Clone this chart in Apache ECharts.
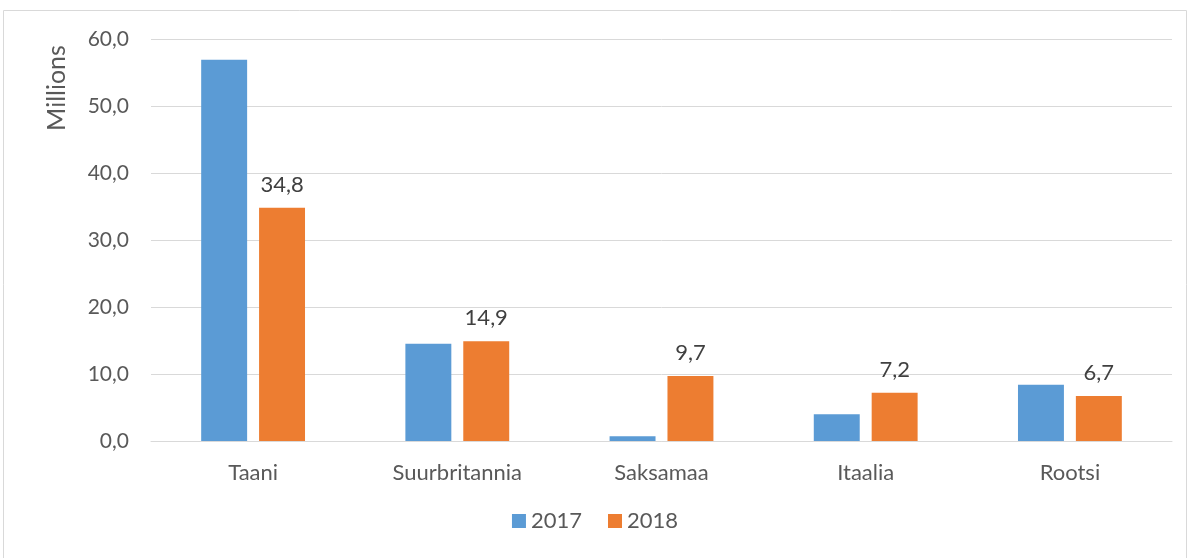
<!DOCTYPE html>
<html lang="et">
<head>
    <meta charset="utf-8" />
    <title>eCharts</title>
    <script src="https://cdn.jsdelivr.net/npm/echarts@6/dist/echarts.min.js"></script>
    <style>
        html, body { margin: 0; padding: 0; background: #fff; }
    </style>
</head>
<body>
    <div id="main" style="width: 1190px;height:558px;"></div>
    <script type="text/javascript">
        // data (millions)
        var categories = ['Taani', 'Suurbritannia', 'Saksamaa', 'Itaalia', 'Rootsi'];
        var values2017 = [56.9, 14.5, 0.7, 4.0, 8.4];
        var values2018 = [34.8, 14.9, 9.7, 7.2, 6.7];
        var seriesNames = ['2017', '2018'];

        var font = 'Lato, "Open Sans", sans-serif';
        var myChart = echarts.init(document.getElementById('main'));

        var fmt = function (v) { return v.toFixed(1).replace('.', ','); };

        option = {
            animation: false,
            textStyle: { fontFamily: font },
            grid: { left: 151, right: 18, top: 39, bottom: 117 },
            legend: {
                data: seriesNames,
                bottom: 21,
                left: 'center',
                itemWidth: 14,
                itemHeight: 14,
                itemGap: 26,
                icon: 'rect',
                textStyle: { fontSize: 22, color: '#595959', fontFamily: font }
            },
            xAxis: {
                type: 'category',
                data: categories,
                axisLine: { lineStyle: { color: '#d9d9d9', width: 1 } },
                axisTick: { show: false },
                axisLabel: { fontSize: 22, color: '#595959', margin: 21, fontFamily: font }
            },
            yAxis: {
                type: 'value',
                min: 0,
                max: 60,
                interval: 10,
                axisLine: { show: false },
                axisTick: { show: false },
                splitLine: { lineStyle: { color: '#d9d9d9', width: 1 } },
                axisLabel: { fontSize: 21, color: '#595959', margin: 22, formatter: fmt, fontFamily: font }
            },
            series: [{
                name: seriesNames[0],
                type: 'bar',
                data: values2017,
                barWidth: '22.5%',
                barGap: '26%',
                itemStyle: { color: '#5B9BD5' }
            }, {
                name: seriesNames[1],
                type: 'bar',
                data: values2018,
                barWidth: '22.5%',
                itemStyle: { color: '#ED7D31' },
                label: {
                    show: true,
                    position: 'top',
                    distance: 12,
                    fontSize: 22,
                    color: '#404040',
                    fontFamily: font,
                    formatter: function (p) { return fmt(p.value); }
                }
            }],
            graphic: [{
                type: 'rect',
                shape: { x: 3.5, y: 10.5, width: 1183, height: 560 },
                style: { fill: 'none', stroke: '#d9d9d9', lineWidth: 1 },
                silent: true
            }, {
                type: 'text',
                x: 57,
                y: 88,
                rotation: Math.PI / 2,
                style: {
                    text: 'Millions',
                    fontSize: 25,
                    fill: '#595959',
                    fontFamily: font,
                    align: 'center',
                    verticalAlign: 'middle'
                }
            }]
        };

        myChart.setOption(option);
    </script>
</body>
</html>
